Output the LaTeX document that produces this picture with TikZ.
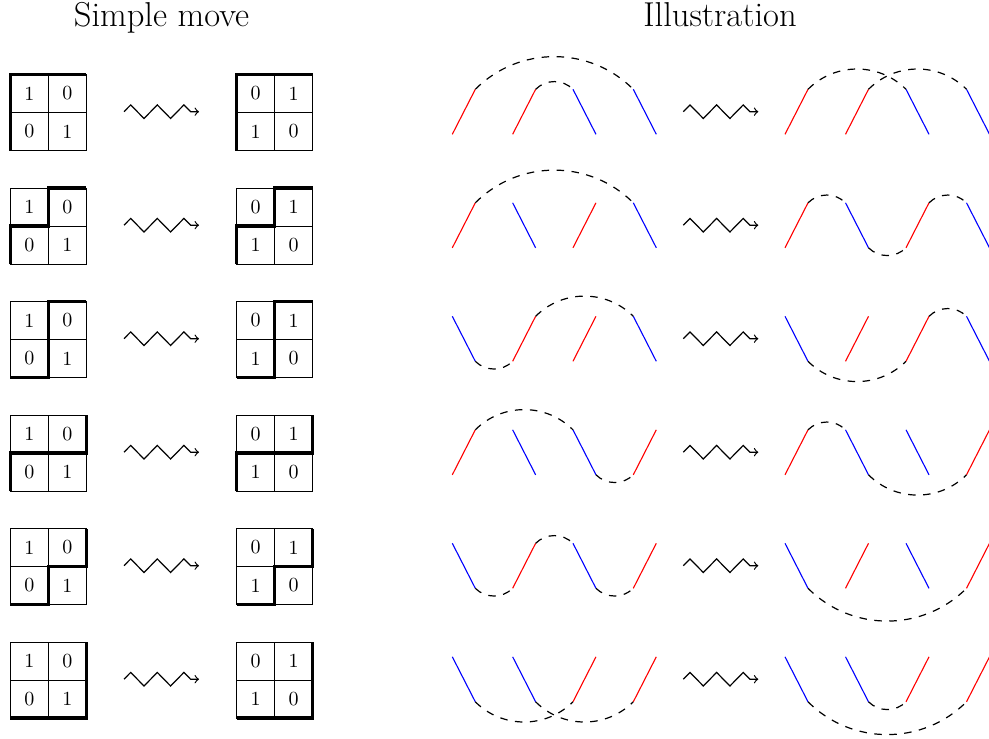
\documentclass[tikz,border=0pt]{standalone}
\tikzset{
  cellline/.style={line width=0.45pt},
  thickedge/.style={line width=1.8pt},
  rstr/.style={red, line width=0.55pt},
  bstr/.style={blue, line width=0.55pt},
  arcline/.style={dash pattern=on 3.75pt off 3.75pt, line width=0.6pt},
  archi/.style={out=45, in=135},
  arclo/.style={out=-45, in=-135},
  zzarrow/.style={->, line width=0.6pt},
  digit/.style={font=\normalsize, inner sep=0pt},
  ttl/.style={font=\LARGE, anchor=base, inner sep=0pt}
}
\newcommand\redstrand[3]{\draw[rstr] (#1,{-#2-21.8}) coordinate (#3b) -- ++(23,45) coordinate (#3t);}
\newcommand\bluestrand[3]{\draw[bstr] (#1,{-#2+23.2}) coordinate (#3t) -- ++(23,-45) coordinate (#3b);}
\newcommand\zigarrow[3]{\draw[zzarrow] (#1,{-#2+0.8}) coordinate (#3s) -- ++(6.7,6.8) -- ++(13.3,-13.6) -- ++(13.3,13.6) -- ++(13.3,-13.6) -- ++(13.3,13.6) -- ++(6.7,-6.8) -- ++(8.4,0) coordinate (#3e);}
\newcommand\cellgrid[8]{%
  \begin{scope}[shift={(#1,{-#2-38})}, x=19pt, y=19pt]
    \draw[cellline] (0,0) rectangle (2,2) (1,0) -- (1,2) (0,1) -- (2,1);
    \node[digit] (#8a) at (0.5,1.5) {#3};
    \node[digit] (#8b) at (1.5,1.5) {#4};
    \node[digit] (#8c) at (0.5,0.5) {#5};
    \node[digit] (#8d) at (1.5,0.5) {#6};
    \draw[thickedge] #7;
  \end{scope}}
\begin{document}
\begin{tikzpicture}[x=0.5pt,y=0.5pt]
\useasboundingbox (0,0) rectangle (989,-738);

\node[ttl] (t1) at (161.5,-27) {Simple move};
\node[ttl] (t2) at (720,-27) {Illustration};

% grids
\cellgrid{10.3}{112.5}{1}{0}{0}{1}{(0,0)--(0,2)--(2,2)}{ga1}
\cellgrid{236.6}{112.5}{0}{1}{1}{0}{(0,0)--(0,2)--(2,2)}{gb1}
\cellgrid{10.3}{226}{1}{0}{0}{1}{(0,0)--(0,1)--(1,1)--(1,2)--(2,2)}{ga2}
\cellgrid{236.6}{226}{0}{1}{1}{0}{(0,0)--(0,1)--(1,1)--(1,2)--(2,2)}{gb2}
\cellgrid{10.3}{339.5}{1}{0}{0}{1}{(0,0)--(1,0)--(1,2)--(2,2)}{ga3}
\cellgrid{236.6}{339.5}{0}{1}{1}{0}{(0,0)--(1,0)--(1,2)--(2,2)}{gb3}
\cellgrid{10.3}{453}{1}{0}{0}{1}{(0,0)--(0,1)--(2,1)--(2,2)}{ga4}
\cellgrid{236.6}{453}{0}{1}{1}{0}{(0,0)--(0,1)--(2,1)--(2,2)}{gb4}
\cellgrid{10.3}{566.5}{1}{0}{0}{1}{(0,0)--(1,0)--(1,1)--(2,1)--(2,2)}{ga5}
\cellgrid{236.6}{566.5}{0}{1}{1}{0}{(0,0)--(1,0)--(1,1)--(2,1)--(2,2)}{gb5}
\cellgrid{10.3}{680}{1}{0}{0}{1}{(0,0)--(2,0)--(2,2)}{ga6}
\cellgrid{236.6}{680}{0}{1}{1}{0}{(0,0)--(2,0)--(2,2)}{gb6}

% zigzag arrows
\foreach \r in {1,...,6}{
  \pgfmathsetmacro\cy{112.5+113.5*(\r-1)}
  \zigarrow{124}{\cy}{za\r}
  \zigarrow{683.3}{\cy}{zb\r}
}

% strands
\foreach \r/\pat in {1/{R,R,B,B},2/{R,B,R,B},3/{B,R,R,B},4/{R,B,B,R},5/{B,R,B,R},6/{B,B,R,R}}{
  \pgfmathsetmacro\cy{112.5+113.5*(\r-1)}
  \foreach \ty [count=\k] in \pat {
    \pgfmathsetmacro\xl{452.3+60.33*(\k-1)}
    \pgfmathsetmacro\xr{785+60.5*(\k-1)}
    \if\ty R
      \redstrand{\xl}{\cy}{L\r\k}
      \redstrand{\xr}{\cy}{R\r\k}
    \else
      \bluestrand{\xl}{\cy}{L\r\k}
      \bluestrand{\xr}{\cy}{R\r\k}
    \fi
  }
}

% row 1
\draw[arcline] (L11t) to[archi] (L14t);
\draw[arcline] (L12t) to[archi] (L13t);
\draw[arcline] (R11t) to[archi] (R13t);
\draw[arcline] (R12t) to[archi] (R14t);
% row 2
\draw[arcline] (L21t) to[archi] (L24t);
\draw[arcline] (R21t) to[archi] (R22t);
\draw[arcline] (R23t) to[archi] (R24t);
\draw[arcline] (R22b) to[arclo] (R23b);
% row 3
\draw[arcline] (L31b) to[arclo] (L32b);
\draw[arcline] (L32t) to[archi] (L34t);
\draw[arcline] (R33t) to[archi] (R34t);
\draw[arcline] (R31b) to[arclo] (R33b);
% row 4
\draw[arcline] (L41t) to[archi] (L43t);
\draw[arcline] (L43b) to[arclo] (L44b);
\draw[arcline] (R41t) to[archi] (R42t);
\draw[arcline] (R42b) to[arclo] (R44b);
% row 5
\draw[arcline] (L51b) to[arclo] (L52b);
\draw[arcline] (L52t) to[archi] (L53t);
\draw[arcline] (L53b) to[arclo] (L54b);
\draw[arcline] (R51b) to[arclo] (R54b);
% row 6
\draw[arcline] (L61b) to[arclo] (L63b);
\draw[arcline] (L62b) to[arclo] (L64b);
\draw[arcline] (R61b) to[arclo] (R64b);
\draw[arcline] (R62b) to[arclo] (R63b);
\end{tikzpicture}
\end{document}
